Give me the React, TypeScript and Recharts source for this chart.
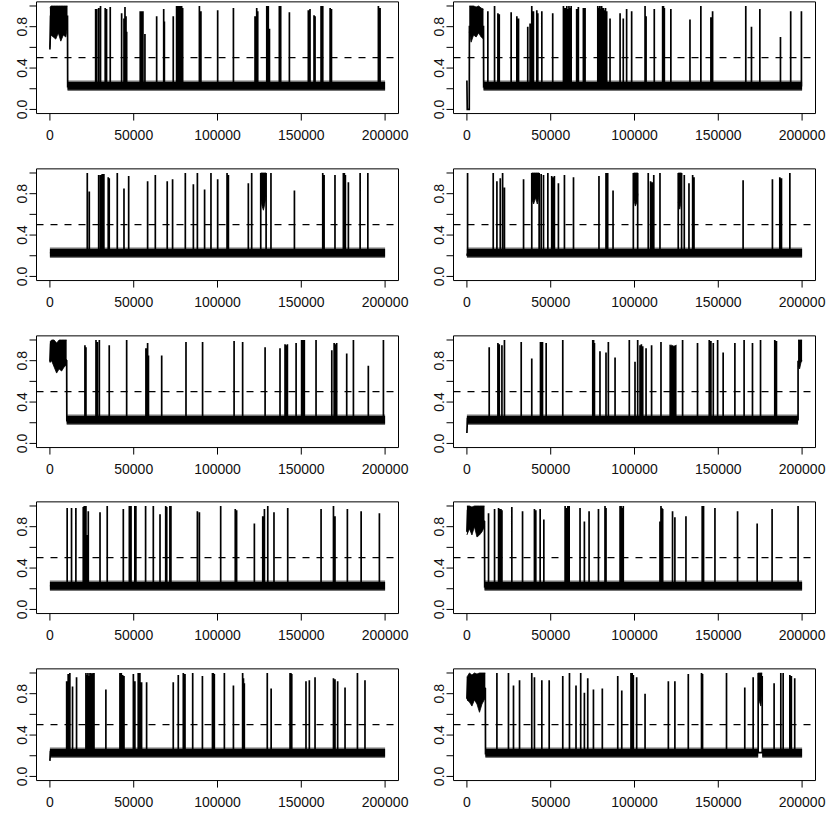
import { ComposedChart, Line, Area, XAxis, YAxis, ReferenceLine, ReferenceArea } from 'recharts'

// x positions are in thousands of iterations, values are the traced parameter
type Pt = [number, number]
type HiPt = [number, number, number]

const xTicks = [0, 50000, 100000, 150000, 200000]
const yTicks = [0, 0.2, 0.4, 0.6, 0.8, 1]
const yLabels = [0, 0.4, 0.8]
const cutoff = 0.5

// level of the dense lower state, its core spread and its ragged edge
const BASE = 0.23
const BAND_LO = 0.19
const BAND_HI = 0.265
const EDGE_LO = 0.178
const EDGE_HI = 0.28

// panel 1
const lead1: Pt[] = [[0, 0.58], [0.4, 0.9], [10.5, 0.9], [10.6, 0.22]]
const hi1: HiPt[][] = [[[0, 0.6, 0.98], [0.6, 0.72, 1], [2, 0.7, 1], [3.5, 0.68, 1], [5, 0.74, 1], [6.5, 0.66, 1], [8, 0.72, 1], [9.5, 0.7, 1], [10.5, 0.8, 1]]]
const band1: Pt[] = [[10.5, 200]]
const sp1: Pt[] = [[27.3, 0.97], [27.9, 0.97], [29.1, 0.98], [30.2, 1.0], [33.0, 0.98], [33.8, 0.97], [36.0, 0.99], [42.8, 0.93], [44.2, 0.88], [44.8, 0.99], [45.4, 0.9], [45.8, 0.75], [53.9, 0.95], [54.7, 0.95], [55.5, 0.95], [56.7, 0.73], [63.7, 0.9], [67.9, 0.97], [68.3, 0.85], [73.6, 0.9], [75.6, 1.0], [76.1, 0.98], [76.6, 1.0], [77.1, 0.97], [77.6, 1.0], [78.6, 1.0], [79.2, 0.98], [89.2, 1.0], [90.1, 0.95], [100.1, 0.96], [109.5, 0.98], [122.4, 0.9], [123.4, 0.98], [124.0, 0.95], [129.4, 1.0], [130.3, 1.0], [131.0, 0.78], [136.9, 1.0], [137.7, 1.0], [142.9, 0.94], [154.2, 0.96], [155.2, 0.97], [157.6, 0.91], [158.2, 0.9], [161.8, 1.0], [162.8, 1.0], [167.2, 0.98], [168.0, 0.97], [196.0, 1.0], [196.5, 0.98], [197.0, 0.98]]

// panel 2
const lead2: Pt[] = [[0, 0.28], [0.2, 0.0], [1.4, 0.0], [1.5, 0.8], [9.9, 0.8], [10, 0.22]]
const hi2: HiPt[][] = [[[1.4, 0.75, 1], [2.5, 0.65, 1], [4, 0.72, 1], [5.5, 0.7, 0.99], [7, 0.74, 1], [8.5, 0.7, 0.98], [9.9, 0.68, 0.97]]]
const band2: Pt[] = [[9.9, 200]]
const sp2: Pt[] = [[12.5, 0.95], [16.5, 1.0], [18.5, 0.93], [19.3, 0.92], [26.4, 0.94], [29.8, 0.9], [30.8, 0.88], [36.3, 0.8], [37.7, 0.83], [38.7, 1.0], [39.7, 0.95], [41.7, 0.96], [42.3, 0.93], [44.7, 0.95], [51.2, 0.93], [57.6, 1.0], [58.6, 0.98], [59.6, 1.0], [60.3, 0.97], [60.9, 1.0], [61.5, 0.98], [62.2, 1.0], [65.5, 0.97], [66.5, 0.99], [69.5, 0.98], [70.5, 0.98], [78.1, 1.0], [78.7, 0.98], [79.3, 1.0], [79.9, 0.97], [80.4, 1.0], [81.4, 0.98], [82.1, 0.96], [82.7, 0.98], [83.4, 0.95], [85.4, 0.88], [91.4, 0.93], [93.3, 0.88], [95.3, 0.97], [98.3, 0.95], [106.3, 1.0], [106.9, 0.9], [111.8, 0.97], [116.8, 1.0], [117.3, 1.0], [117.8, 0.98], [121.7, 0.97], [133.1, 0.87], [139.6, 1.0], [145.6, 0.89], [146.6, 0.95], [166.4, 1.0], [169.8, 0.8], [174.8, 0.97], [187.1, 0.7], [193.2, 0.95], [199.6, 0.95]]

// panel 3
const lead3: Pt[] = [[0, 0.23]]
const hi3: HiPt[][] = [[[125.8, 0.75, 1], [126.6, 0.68, 1], [127.4, 0.64, 1], [128.2, 0.7, 1], [129, 0.78, 1]]]
const band3: Pt[] = [[0, 200]]
const sp3: Pt[] = [[22.3, 1.0], [23.5, 0.82], [29.1, 0.98], [30.2, 0.98], [31.2, 0.99], [32.2, 0.99], [34.8, 0.96], [35.4, 0.95], [40.2, 1.0], [44.2, 0.85], [47.0, 0.97], [58.3, 0.92], [62.9, 0.98], [70.0, 0.92], [73.2, 0.94], [80.8, 1.0], [85.6, 0.89], [88.0, 1.0], [92.3, 0.84], [96.1, 1.0], [100.1, 0.94], [105.7, 1.0], [106.5, 0.98], [118.4, 0.9], [120.4, 1.0], [125.8, 1.0], [129.0, 1.0], [131.9, 1.0], [145.9, 0.83], [162.8, 1.0], [163.6, 0.98], [170.1, 0.98], [175.1, 1.0], [175.7, 1.0], [176.3, 0.98], [178.1, 0.91], [185.1, 1.0], [189.7, 1.0]]

// panel 4
const lead4: Pt[] = [[0, 0.2]]
const hi4: HiPt[][] = [
  [[38.7, 0.75, 1], [39.8, 0.7, 1], [41, 0.76, 1], [42, 0.7, 1], [43.1, 0.78, 1]],
  [[99.5, 0.75, 1], [100.5, 0.68, 1], [101.5, 0.72, 1], [102, 0.8, 1]],
  [[126.1, 0.72, 1], [127, 0.65, 1], [128.1, 0.75, 1]],
]
const band4: Pt[] = [[0, 200]]
const sp4: Pt[] = [[0.4, 1.0], [15.7, 1.0], [17.9, 0.92], [19.9, 0.95], [21.3, 1.0], [22.4, 0.86], [33.8, 0.94], [38.7, 1.0], [43.1, 1.0], [44.3, 0.99], [45.7, 0.98], [48.3, 1.0], [50.6, 0.97], [51.4, 0.96], [52.2, 0.97], [54.6, 0.9], [58.2, 0.98], [63.6, 0.96], [78.8, 0.97], [83.0, 1.0], [83.5, 0.77], [84.0, 1.0], [87.2, 0.83], [99.3, 1.0], [101.9, 1.0], [108.2, 1.0], [109.6, 0.92], [110.6, 0.91], [111.5, 0.98], [115.2, 1.0], [126.1, 1.0], [128.1, 1.0], [129.7, 0.98], [132.5, 0.9], [134.7, 0.98], [135.5, 0.96], [164.8, 0.93], [182.3, 0.94], [186.7, 0.96], [187.7, 0.95], [192.7, 1.0]]

// panel 5
const lead5: Pt[] = [[0, 0.79], [0.4, 0.95], [10, 0.8], [10.1, 0.22]]
const hi5: HiPt[][] = [[[0, 0.78, 0.98], [1, 0.8, 1], [2.5, 0.74, 1], [4, 0.68, 0.97], [5.5, 0.72, 1], [7, 0.7, 1], [8.5, 0.74, 1], [10, 0.76, 1]]]
const band5: Pt[] = [[10, 200]]
const sp5: Pt[] = [[20.9, 0.95], [21.5, 0.93], [27.5, 1.0], [28.3, 0.98], [29.5, 1.0], [35.4, 0.95], [45.8, 1.0], [57.3, 0.92], [58.3, 0.97], [58.8, 0.85], [66.7, 0.85], [81.2, 0.98], [91.1, 0.98], [109.9, 0.99], [115.0, 0.98], [128.4, 0.93], [137.3, 0.92], [140.3, 0.96], [141.0, 0.95], [141.7, 0.96], [146.9, 0.97], [150.2, 1.0], [150.8, 1.0], [151.3, 0.98], [151.8, 1.0], [158.8, 1.0], [168.2, 0.9], [169.6, 0.97], [170.3, 0.96], [171.1, 0.97], [177.1, 0.87], [181.1, 1.0], [190.0, 0.75], [199.0, 1.0]]

// panel 6
const lead6: Pt[] = [[0, 0.1], [0.3, 0.24]]
const hi6: HiPt[][] = [
  [[120.8, 0.25, 0.95], [122, 0.25, 0.95], [123.5, 0.25, 0.94], [125.1, 0.25, 0.95]],
  [[197.6, 0.75, 1], [198.5, 0.72, 1], [199.3, 0.78, 1], [200, 0.8, 1]],
]
const band6: Pt[] = [[0, 197.6]]
const sp6: Pt[] = [[13.3, 0.93], [18.5, 0.97], [19.3, 0.96], [20.9, 0.95], [22.4, 1.0], [32.4, 0.98], [38.7, 0.82], [43.9, 0.98], [44.5, 0.98], [45.1, 0.98], [47.3, 0.97], [57.2, 1.0], [75.1, 1.0], [75.6, 1.0], [76.1, 0.97], [79.4, 0.89], [83.0, 0.88], [84.4, 0.98], [88.4, 0.83], [96.9, 1.0], [100.3, 0.79], [101.9, 1.0], [103.3, 0.95], [104.1, 0.96], [104.9, 0.94], [106.9, 0.92], [110.2, 0.95], [115.8, 0.98], [128.7, 1.0], [137.6, 0.97], [144.6, 1.0], [145.6, 0.99], [147.0, 0.97], [149.6, 1.0], [152.9, 0.88], [159.9, 0.97], [165.4, 1.0], [170.4, 0.97], [175.2, 1.0], [183.7, 1.0], [184.7, 0.99], [197.6, 0.8]]

// panel 7
const lead7: Pt[] = [[0, 0.23]]
const hi7: HiPt[][] = []
const band7: Pt[] = [[0, 200]]
const sp7: Pt[] = [[10.3, 0.98], [12.9, 0.98], [15.5, 0.98], [19.9, 0.99], [20.5, 1.0], [21.1, 0.97], [21.5, 1.0], [22.3, 0.72], [22.9, 0.95], [29.9, 0.94], [34.2, 1.0], [43.8, 0.97], [47.4, 1.0], [47.9, 0.98], [48.4, 1.0], [50.7, 1.0], [51.0, 0.98], [51.3, 1.0], [57.1, 1.0], [61.7, 1.0], [65.7, 0.92], [69.1, 1.0], [69.7, 0.99], [71.6, 1.0], [72.2, 1.0], [88.0, 0.95], [89.2, 0.94], [101.9, 1.0], [110.6, 0.97], [111.4, 0.96], [122.0, 0.83], [127.0, 0.9], [128.0, 0.97], [130.0, 1.0], [133.7, 0.94], [141.9, 0.98], [161.8, 0.97], [169.2, 1.0], [170.1, 0.9], [177.5, 0.97], [185.7, 0.95], [196.6, 0.93]]

// panel 8
const lead8: Pt[] = [[0, 0.75], [0.4, 0.95], [10.5, 0.85], [10.6, 0.22]]
const hi8: HiPt[][] = [[[0, 0.72, 1], [1.5, 0.78, 1], [3, 0.72, 0.99], [4.5, 0.8, 1], [6, 0.7, 1], [7.5, 0.72, 1], [9, 0.75, 1], [10.5, 0.8, 1]]]
const band8: Pt[] = [[10.5, 200]]
const sp8: Pt[] = [[12.9, 0.93], [16.5, 0.97], [18.9, 0.98], [19.6, 0.97], [20.3, 0.97], [20.9, 0.96], [26.8, 0.99], [33.2, 0.95], [40.3, 0.97], [41.1, 0.96], [43.7, 0.97], [45.9, 0.87], [58.6, 1.0], [59.4, 0.98], [60.2, 1.0], [61.0, 1.0], [67.5, 0.98], [70.1, 0.85], [72.9, 0.95], [78.5, 0.97], [82.4, 1.0], [83.0, 0.98], [91.4, 1.0], [92.0, 1.0], [92.6, 0.98], [93.3, 1.0], [115.2, 0.85], [115.8, 1.0], [116.3, 0.98], [116.8, 0.97], [122.7, 0.95], [124.1, 0.89], [130.7, 0.9], [140.4, 1.0], [140.8, 0.99], [141.2, 1.0], [148.0, 0.98], [161.5, 0.95], [173.2, 0.83], [182.1, 0.97], [197.6, 1.0]]

// panel 9
const lead9: Pt[] = [[0, 0.15], [0.3, 0.24]]
const hi9: HiPt[][] = []
const band9: Pt[] = [[0, 200]]
const sp9: Pt[] = [[10.0, 0.92], [10.9, 0.99], [11.9, 1.0], [13.5, 0.87], [15.9, 0.96], [21.5, 1.0], [22.1, 0.98], [22.7, 1.0], [23.3, 0.97], [23.9, 1.0], [24.5, 1.0], [25.1, 0.99], [25.7, 1.0], [26.3, 1.0], [33.4, 0.84], [41.8, 1.0], [42.6, 1.0], [43.4, 0.98], [44.2, 0.97], [49.8, 0.99], [50.7, 0.92], [52.7, 1.0], [53.7, 1.0], [54.7, 0.91], [57.7, 0.91], [73.6, 0.91], [76.6, 0.98], [79.6, 1.0], [80.6, 0.99], [85.2, 1.0], [91.0, 0.97], [97.0, 1.0], [97.5, 1.0], [98.1, 0.99], [104.1, 1.0], [109.5, 0.88], [115.0, 1.0], [115.5, 0.95], [116.0, 0.9], [129.7, 1.0], [132.0, 0.85], [143.3, 1.0], [143.8, 1.0], [144.3, 0.99], [152.8, 0.92], [154.8, 0.93], [158.2, 0.96], [169.2, 0.95], [170.1, 0.94], [171.7, 0.92], [176.1, 0.86], [183.5, 1.0], [188.0, 0.93]]

// panel 10
const lead10: Pt[] = [[0, 0.75], [0.4, 0.95], [11, 0.85], [11.1, 0.22]]
const hi10: HiPt[][] = [
  [[0, 0.74, 0.96], [1.5, 0.72, 1], [3, 0.68, 0.98], [4.5, 0.74, 1], [6, 0.7, 0.99], [7.5, 0.62, 1], [9, 0.7, 1], [11, 0.76, 1]],
  [[173.8, 0.75, 1], [174.6, 0.72, 1], [175.4, 0.68, 1], [176.2, 0.8, 1]],
]
const band10: Pt[] = [[11, 173.8], [176.2, 200]]
const sp10: Pt[] = [[17.9, 1.0], [24.8, 1.0], [27.8, 0.88], [31.4, 0.93], [38.7, 1.0], [40.3, 0.96], [44.7, 0.93], [49.1, 0.93], [57.2, 0.97], [61.2, 1.0], [65.1, 0.88], [67.9, 1.0], [70.1, 0.81], [72.1, 0.95], [75.5, 0.84], [80.8, 0.85], [90.0, 0.97], [92.4, 0.83], [97.9, 1.0], [98.6, 1.0], [99.3, 0.98], [101.3, 0.96], [106.3, 0.8], [120.2, 0.92], [124.1, 0.92], [132.1, 0.99], [140.0, 1.0], [140.6, 0.99], [154.9, 1.0], [165.8, 0.86], [170.8, 0.96], [173.8, 1.0], [176.2, 0.97], [183.3, 0.9], [187.3, 1.0], [188.7, 1.0], [192.7, 0.98], [193.6, 0.97], [195.6, 0.95]]

const panels = [
  { lead: lead1, hi: hi1, band: band1, sp: sp1 },
  { lead: lead2, hi: hi2, band: band2, sp: sp2 },
  { lead: lead3, hi: hi3, band: band3, sp: sp3 },
  { lead: lead4, hi: hi4, band: band4, sp: sp4 },
  { lead: lead5, hi: hi5, band: band5, sp: sp5 },
  { lead: lead6, hi: hi6, band: band6, sp: sp6 },
  { lead: lead7, hi: hi7, band: band7, sp: sp7 },
  { lead: lead8, hi: hi8, band: band8, sp: sp8 },
  { lead: lead9, hi: hi9, band: band9, sp: sp9 },
  { lead: lead10, hi: hi10, band: band10, sp: sp10 },
]

const font = { fontFamily: '"Liberation Sans", Arial, Helvetica, sans-serif', fontSize: 14, fill: '#111' }

const ROW = 166.8
const TOP = 1.86
const PLOT_H = 111.7
const PLOT_W = 362
const CH = 148

function XTick({ x, y, payload }: any) {
  return <text x={x} y={y} dy={17.5} textAnchor="middle" style={font}>{payload.value}</text>
}

function YTick({ x, y, payload }: any) {
  const v = payload.value
  if (!yLabels.some(t => Math.abs(t - v) < 1e-6)) return <g />
  return (
    <text x={x} y={y} transform={`rotate(-90 ${x} ${y})`} textAnchor="middle" style={font}>{v.toFixed(1)}</text>
  )
}

function trace(p: typeof panels[number]) {
  const pts = p.lead.map(([k, v]) => ({ x: k * 1000, y: v }))
  p.sp.forEach(([k, v]) => {
    pts.push({ x: k * 1000, y: BASE }, { x: k * 1000, y: v }, { x: k * 1000, y: BASE })
  })
  return pts
}

function stretch(s: number, e: number, lo: number, hi: number) {
  return [{ x: s * 1000, band: [lo, hi] }, { x: e * 1000, band: [lo, hi] }]
}

function Panel({ p, col }: { p: typeof panels[number]; col: number }) {
  const yW = col === 0 ? 36.5 : 38.5
  return (
    <ComposedChart width={yW + PLOT_W + 10} height={CH} margin={{ top: TOP, right: 10, bottom: 0, left: 0 }}>
      <XAxis type="number" dataKey="x" domain={[-8000, 208000]} ticks={xTicks} interval={0} allowDataOverflow
        height={CH - TOP - PLOT_H} tickSize={7} axisLine={false} tickLine={{ stroke: '#000' }} tick={<XTick />} />
      <YAxis type="number" domain={[-0.04, 1.04]} ticks={yTicks} interval={0} allowDataOverflow
        width={yW} tickSize={7} axisLine={false} tickLine={{ stroke: '#000' }} tick={<YTick />} />
      {p.band.map(([s, e], i) => (
        <Area key={'e' + i} data={stretch(s, e, EDGE_LO, EDGE_HI)}
          dataKey="band" type="linear" stroke="none" fill="#000" fillOpacity={0.55}
          dot={false} activeDot={false} isAnimationActive={false} />
      ))}
      {p.band.map(([s, e], i) => (
        <Area key={'b' + i} data={stretch(s, e, BAND_LO, BAND_HI)}
          dataKey="band" type="linear" stroke="none" fill="#000" fillOpacity={1}
          dot={false} activeDot={false} isAnimationActive={false} />
      ))}
      {p.hi.map((blk, i) => (
        <Area key={'h' + i} data={blk.map(([k, lo, hi]) => ({ x: k * 1000, band: [lo, hi] }))}
          dataKey="band" type="linear" stroke="#000" strokeWidth={0.8} fill="#000" fillOpacity={1}
          dot={false} activeDot={false} isAnimationActive={false} />
      ))}
      <Line data={trace(p)} dataKey="y" type="linear" stroke="#000" strokeWidth={1.7}
        dot={false} activeDot={false} isAnimationActive={false} />
      <ReferenceLine y={cutoff} stroke="#000" strokeWidth={1.2} strokeDasharray="7 7" />
      <ReferenceArea x1={-8000} x2={208000} y1={-0.04} y2={1.04} fill="none" stroke="#000" strokeWidth={1} />
    </ComposedChart>
  )
}

export default function App() {
  return (
    <div style={{ position: 'fixed', left: 0, top: 0, width: 830, height: 816, overflow: 'hidden', background: '#fff' }}>
      {panels.map((p, i) => {
        const col = i % 2
        const row = Math.floor(i / 2)
        return (
          <div key={i} style={{ position: 'absolute', left: col === 0 ? 0 : 415, top: row * ROW }}>
            <Panel p={p} col={col} />
          </div>
        )
      })}
    </div>
  )
}
